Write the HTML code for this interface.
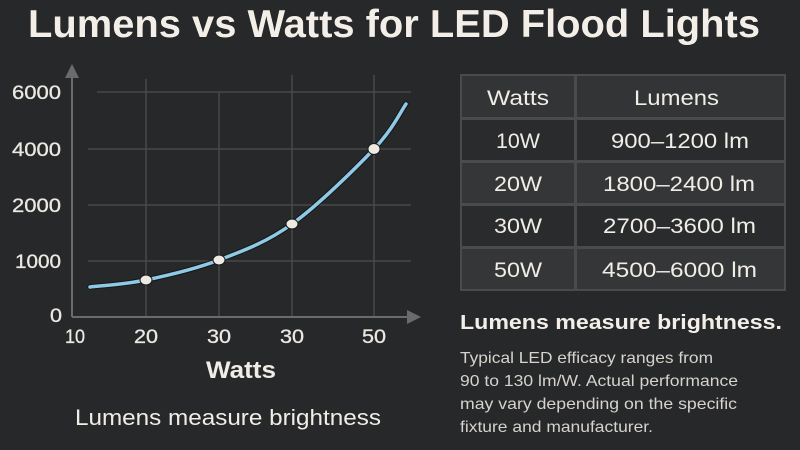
<!DOCTYPE html>
<html>
<head>
<meta charset="utf-8">
<style>
html,body{margin:0;padding:0;background:#27282a;}
svg{display:block;}
text{font-family:"Liberation Sans","DejaVu Sans",sans-serif;}
</style>
</head>
<body>
<svg width="800" height="450" viewBox="0 0 800 450" xmlns="http://www.w3.org/2000/svg">
<rect x="0" y="0" width="800" height="450" fill="#27282a"/>

<!-- Title -->
<text x="28" y="37" font-size="39" font-weight="bold" fill="#f3efe8" textLength="732" lengthAdjust="spacingAndGlyphs" stroke="#111" stroke-width="0.5" paint-order="stroke">Lumens vs Watts for LED Flood Lights</text>

<!-- Grid -->
<g stroke="#47484a" stroke-width="1.5">
  <line x1="97" y1="92" x2="411" y2="92"/>
  <line x1="88" y1="149" x2="411" y2="149"/>
  <line x1="88" y1="205" x2="411" y2="205"/>
  <line x1="88" y1="261" x2="411" y2="261"/>
  <line x1="146" y1="79" x2="146" y2="317"/>
  <line x1="219" y1="92" x2="219" y2="317"/>
  <line x1="292" y1="75" x2="292" y2="317"/>
  <line x1="374" y1="75" x2="374" y2="317"/>
</g>

<!-- Axes -->
<g stroke="#6a6b6d" stroke-width="2" fill="none">
  <line x1="72" y1="317" x2="72" y2="76"/>
  <line x1="72" y1="317" x2="408" y2="317"/>
</g>
<polygon points="72,64 65,78 79,78" fill="#6a6b6d"/>
<polygon points="421,317 407,310 407,324" fill="#6a6b6d"/>

<!-- Y labels -->
<g font-size="19" fill="#ece9e2" stroke="#ece9e2" stroke-width="0.3">
  <text x="12" y="99" textLength="49" lengthAdjust="spacingAndGlyphs">6000</text>
  <text x="12" y="156" textLength="49" lengthAdjust="spacingAndGlyphs">4000</text>
  <text x="12" y="212" textLength="49" lengthAdjust="spacingAndGlyphs">2000</text>
  <text x="15" y="268" textLength="46" lengthAdjust="spacingAndGlyphs">1000</text>
  <text x="50" y="322" textLength="12" lengthAdjust="spacingAndGlyphs">0</text>
</g>
<!-- X labels -->
<g font-size="19" fill="#ece9e2" stroke="#ece9e2" stroke-width="0.3">
  <text x="65" y="343" textLength="20" lengthAdjust="spacingAndGlyphs">10</text>
  <text x="134" y="343" textLength="24" lengthAdjust="spacingAndGlyphs">20</text>
  <text x="207" y="343" textLength="24" lengthAdjust="spacingAndGlyphs">30</text>
  <text x="280" y="343" textLength="24" lengthAdjust="spacingAndGlyphs">30</text>
  <text x="362" y="343" textLength="24" lengthAdjust="spacingAndGlyphs">50</text>
</g>

<!-- Curve -->
<path d="M90,287 C99.3,285.8 124.5,284.5 146,280 C167.5,275.5 194.7,269.3 219,260 C243.3,250.7 266.2,242.5 292,224 C317.8,205.5 355,169 374,149 C393,129 400.7,111.5 406,104" fill="none" stroke="#151618" stroke-width="5.5" stroke-linecap="round"/>
<path d="M90,287 C99.3,285.8 124.5,284.5 146,280 C167.5,275.5 194.7,269.3 219,260 C243.3,250.7 266.2,242.5 292,224 C317.8,205.5 355,169 374,149 C393,129 400.7,111.5 406,104" fill="none" stroke="#8ecae6" stroke-width="3.5" stroke-linecap="round"/>
<g fill="#eeeae2" stroke="#1a1a1a" stroke-width="1">
  <ellipse cx="146" cy="280" rx="6" ry="5"/>
  <ellipse cx="219" cy="260" rx="6" ry="5"/>
  <ellipse cx="292" cy="224" rx="6" ry="5"/>
  <ellipse cx="374" cy="149" rx="6" ry="5.5"/>
</g>

<!-- Axis title -->
<text x="206" y="378" font-size="24" font-weight="bold" fill="#f0ede6" textLength="70" lengthAdjust="spacingAndGlyphs">Watts</text>
<text x="75" y="425" font-size="22" fill="#f0ede6" textLength="306" lengthAdjust="spacingAndGlyphs">Lumens measure brightness</text>

<!-- Table -->
<rect x="460" y="74" width="326" height="217" fill="#4a4b4d"/>
<g>
  <rect x="462" y="76" width="112" height="41" fill="#333436"/>
  <rect x="577" y="76" width="207" height="41" fill="#333436"/>
  <rect x="462" y="120" width="112" height="40" fill="#2a2b2d"/>
  <rect x="577" y="120" width="207" height="40" fill="#2a2b2d"/>
  <rect x="462" y="163" width="112" height="40" fill="#353638"/>
  <rect x="577" y="163" width="207" height="40" fill="#353638"/>
  <rect x="462" y="206" width="112" height="40" fill="#2a2b2d"/>
  <rect x="577" y="206" width="207" height="40" fill="#2a2b2d"/>
  <rect x="462" y="249" width="112" height="40" fill="#353638"/>
  <rect x="577" y="249" width="207" height="40" fill="#353638"/>
</g>
<g font-size="21" fill="#f0ede6">
  <text x="487" y="105" textLength="62" lengthAdjust="spacingAndGlyphs">Watts</text>
  <text x="634" y="105" textLength="85" lengthAdjust="spacingAndGlyphs">Lumens</text>
  <text x="496" y="148" textLength="44" lengthAdjust="spacingAndGlyphs">10W</text>
  <text x="611" y="148" textLength="138" lengthAdjust="spacingAndGlyphs">900–1200 lm</text>
  <text x="494" y="191" textLength="48" lengthAdjust="spacingAndGlyphs">20W</text>
  <text x="603" y="191" textLength="152" lengthAdjust="spacingAndGlyphs">1800–2400 lm</text>
  <text x="494" y="233" textLength="48" lengthAdjust="spacingAndGlyphs">30W</text>
  <text x="603" y="233" textLength="153" lengthAdjust="spacingAndGlyphs">2700–3600 lm</text>
  <text x="494" y="277" textLength="48" lengthAdjust="spacingAndGlyphs">50W</text>
  <text x="602" y="277" textLength="155" lengthAdjust="spacingAndGlyphs">4500–6000 lm</text>
</g>

<!-- Right text -->
<text x="460" y="329" font-size="20" font-weight="bold" fill="#f3efe8" textLength="322" lengthAdjust="spacingAndGlyphs">Lumens measure brightness.</text>
<g font-size="16" fill="#d6d3cd">
  <text x="460" y="363" textLength="253" lengthAdjust="spacingAndGlyphs">Typical LED efficacy ranges from</text>
  <text x="460" y="386" textLength="278" lengthAdjust="spacingAndGlyphs">90 to 130 lm/W. Actual performance</text>
  <text x="460" y="409" textLength="277" lengthAdjust="spacingAndGlyphs">may vary depending on the specific</text>
  <text x="460" y="432" textLength="193" lengthAdjust="spacingAndGlyphs">fixture and manufacturer.</text>
</g>
</svg>
</body>
</html>
